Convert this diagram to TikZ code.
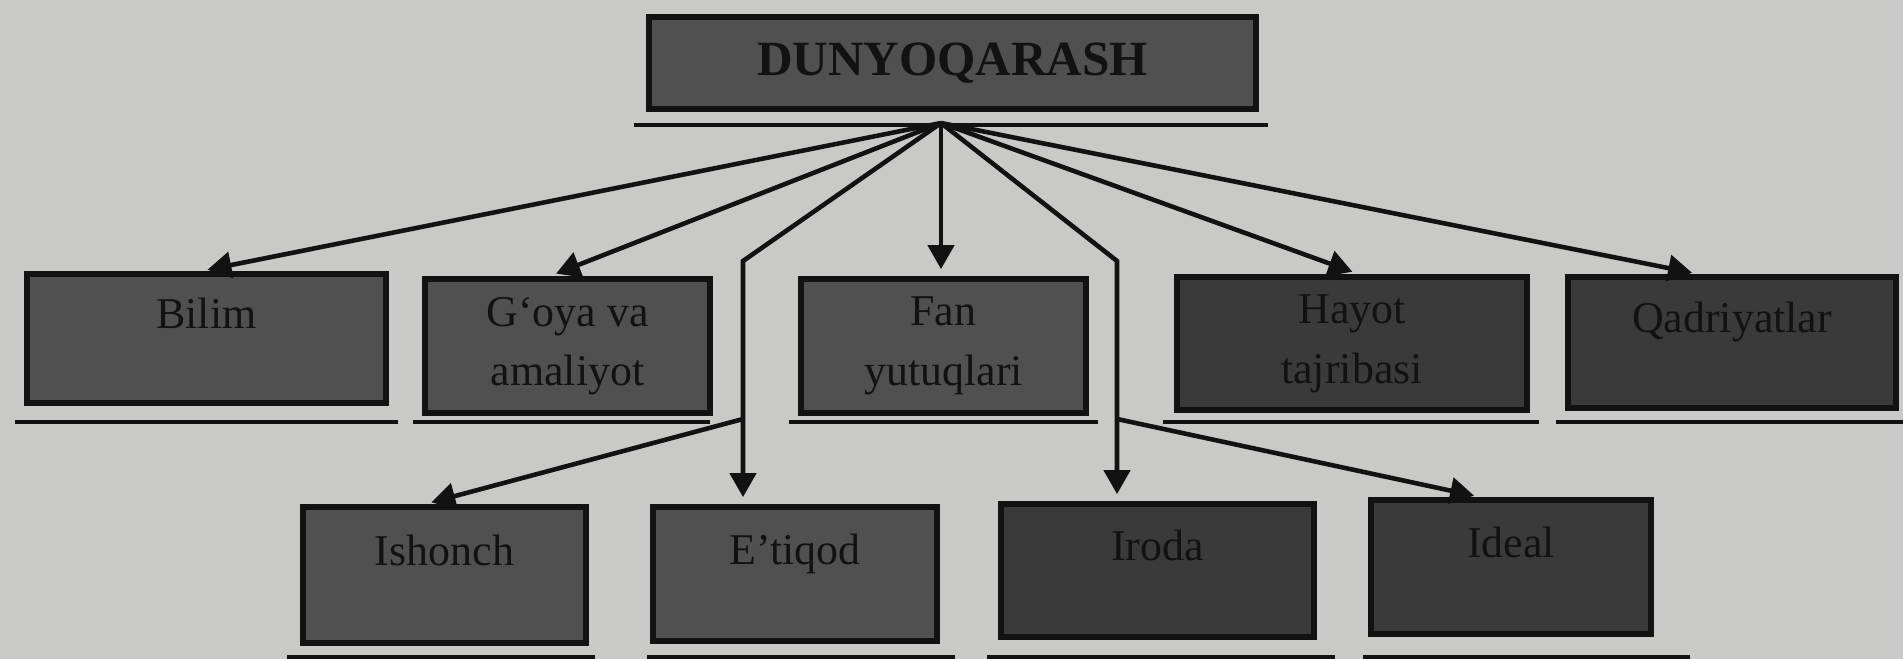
\documentclass[tikz,border=0pt]{standalone}
\usepackage{fontspec}
\setmainfont{Liberation Serif}
\usetikzlibrary{arrows.meta,calc}

\definecolor{paper}{RGB}{201,201,199}
\definecolor{boxgray}{RGB}{80,80,80}
\definecolor{boxdark}{RGB}{58,58,58}
\definecolor{ink}{RGB}{18,18,18}

\begin{document}
\begin{tikzpicture}[
    box/.style={draw=ink, line width=1.6pt, fill=boxgray, align=center, inner sep=0pt,
        text=ink, font=\fontsize{12.5}{17}\selectfont},
    darkbox/.style={box, fill=boxdark},
    link/.style={draw=ink, line width=1.3pt, shorten >=2pt,
        -{Triangle[length=2.4mm,width=2.6mm]}},
    rule/.style={draw=ink, line width=1.4pt}
]
    % page and its margins
    \fill[paper] (0,0) rectangle (19.03,-6.59);
    \useasboundingbox (0,0) rectangle (19.03,-6.59);

    % Head box
    \node[box, minimum width=6.07cm, minimum height=0.92cm,
        font=\bfseries\fontsize{14}{16}\selectfont] (top) at (9.525,-0.63) {DUNYOQARASH};

    % First row
    \node[box, minimum width=3.59cm, minimum height=1.29cm] (bilim) at (2.065,-3.385) {Bilim\\[-8pt] \strut};
    \node[box, minimum width=2.85cm, minimum height=1.34cm] (goya) at (5.675,-3.46) {G‘oya va\\amaliyot};
    \node[box, minimum width=2.85cm, minimum height=1.34cm] (fan) at (9.435,-3.46) {Fan\\yutuqlari};
    \node[darkbox, minimum width=3.50cm, minimum height=1.33cm] (hayot) at (13.52,-3.435) {Hayot\\tajribasi};
    \node[darkbox, minimum width=3.28cm, minimum height=1.31cm] (qadr) at (17.32,-3.425) {Qadriyatlar\\[-8pt] \strut};

    % Second row
    \node[box, minimum width=2.83cm, minimum height=1.36cm] (ishonch) at (4.445,-5.75) {Ishonch\\[-8pt] \strut};
    \node[box, minimum width=2.84cm, minimum height=1.34cm] (etiqod) at (7.95,-5.74) {E’tiqod\\[-8pt] \strut};
    \node[darkbox, minimum width=3.13cm, minimum height=1.33cm] (iroda) at (11.575,-5.705) {Iroda\\[-8pt] \strut};
    \node[darkbox, minimum width=2.80cm, minimum height=1.34cm] (ideal) at (15.11,-5.67) {Ideal\\[-8pt] \strut};

    % underlines
    \draw[rule] (6.34,-1.25) -- (12.68,-1.25);
    \foreach \a/\b in {0.15/3.98, 4.13/7.10, 7.89/10.98, 11.63/15.39, 15.56/19.03}
        \draw[rule] (\a,-4.22) -- (\b,-4.22);
    \foreach \a/\b in {2.87/5.95, 6.47/9.55, 9.87/13.35, 13.63/16.90}
        \draw[rule] (\a,-6.57) -- (\b,-6.57);

    % where the arrows fan out
    \coordinate (hub) at (9.41,-1.23);
    \coordinate (bendL) at (7.43,-2.61);
    \coordinate (bendR) at (11.17,-2.61);
    \coordinate (forkL) at (7.43,-4.19);
    \coordinate (forkR) at (11.17,-4.19);

    \draw[link] (hub) -- ($(bilim.north)+(-0.06,0)$);
    \draw[link] (hub) -- ($(goya.north)+(-0.18,0)$);
    \draw[link] (hub) -- (hub |- fan.north);
    \draw[link] (hub) -- ($(hayot.north)+(0.07,0)$);
    \draw[link] (hub) -- ($(qadr.north)+(-0.33,0)$);

    \draw[link] (hub) -- (bendL) -- (bendL |- etiqod.north);
    \draw[link] (hub) -- (bendR) -- (bendR |- iroda.north);

    \draw[link] (forkL) -- ($(ishonch.north)+(-0.2,0)$);
    \draw[link] (forkR) -- ($(ideal.north)+(-0.3,0)$);

\end{tikzpicture}
\end{document}
